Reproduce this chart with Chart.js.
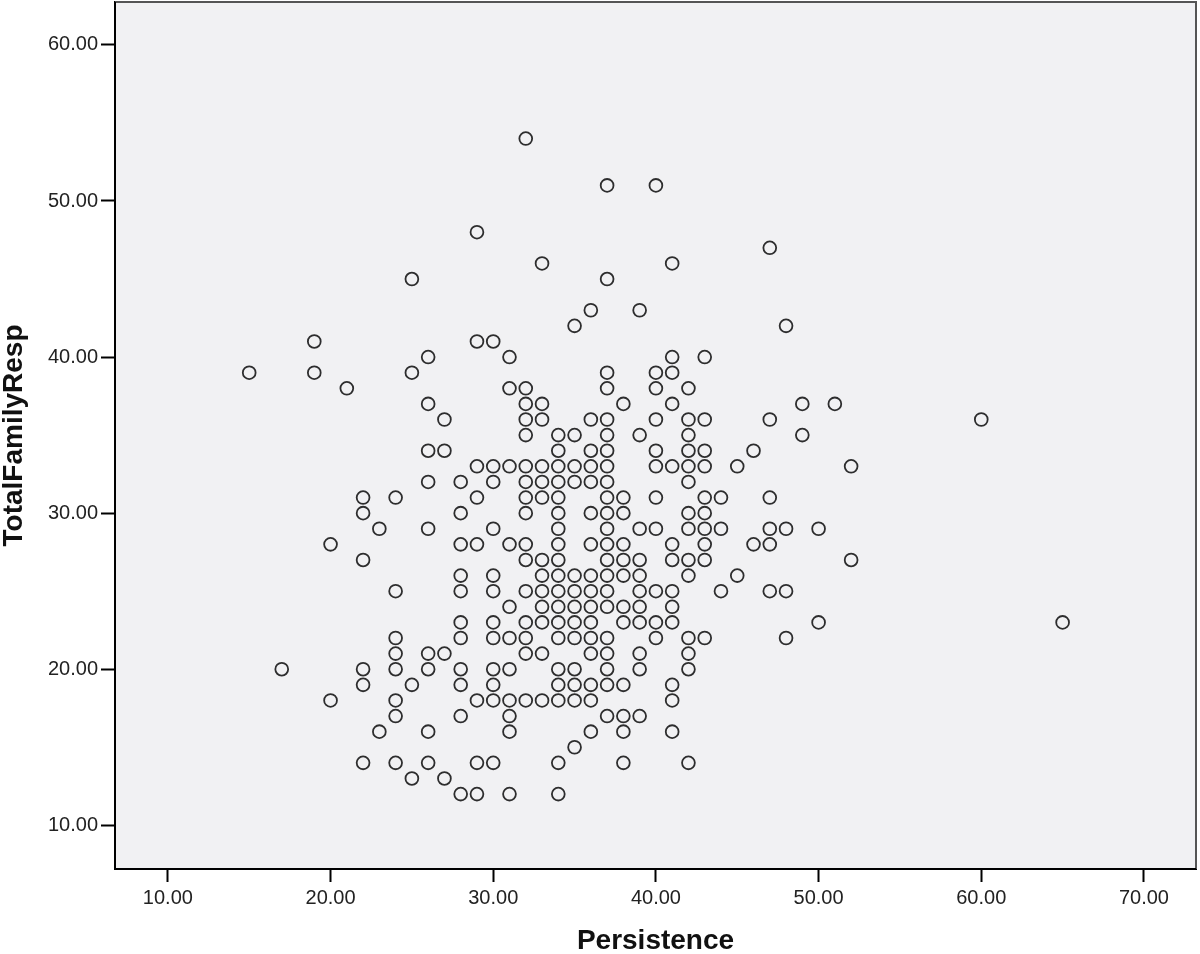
<!DOCTYPE html>
<html>
<head>
<meta charset="utf-8">
<script src="https://cdn.jsdelivr.net/npm/chart.js@4.4.1/dist/chart.umd.min.js"></script>
<style>
  html, body { margin: 0; padding: 0; background: #fff; }
  canvas { display: block; }
</style>
</head>
<body>
<canvas id="c" width="1200" height="954"></canvas>
<script>
// Persistence levels (x) and the TotalFamilyResp values seen at each level (y)
const persistenceLevels = [15, 17, 19, 20, 21, 22, 23, 24, 25, 26, 27, 28, 29, 30, 31, 32, 33, 34, 35, 36, 37, 38, 39, 40, 41, 42, 43, 44, 45, 46, 47, 48, 49, 50, 51, 52, 60, 65];
const familyRespByLevel = [
  [39],
  [20],
  [41, 39],
  [28, 18],
  [38],
  [31, 30, 27, 20, 19, 14],
  [29, 16],
  [31, 25, 22, 21, 20, 18, 17, 14],
  [45, 39, 19, 13],
  [40, 37, 34, 32, 29, 21, 20, 16, 14],
  [36, 34, 21, 13],
  [32, 30, 28, 26, 25, 23, 22, 20, 19, 17, 12],
  [48, 41, 33, 31, 28, 18, 14, 12],
  [41, 33, 32, 29, 26, 25, 23, 22, 20, 19, 18, 14],
  [40, 38, 33, 28, 24, 22, 20, 18, 17, 16, 12],
  [54, 38, 37, 36, 35, 33, 32, 31, 30, 28, 27, 25, 23, 22, 21, 18],
  [46, 37, 36, 33, 32, 31, 27, 26, 25, 24, 23, 21, 18],
  [35, 34, 33, 32, 31, 30, 29, 28, 27, 26, 25, 24, 23, 22, 20, 19, 18, 14, 12],
  [42, 35, 33, 32, 26, 25, 24, 23, 22, 20, 19, 18, 15],
  [43, 36, 34, 33, 32, 30, 28, 26, 25, 24, 23, 22, 21, 19, 18, 16],
  [51, 45, 39, 38, 36, 35, 34, 33, 32, 31, 30, 29, 28, 27, 26, 25, 24, 22, 21, 20, 19, 17],
  [37, 31, 30, 28, 27, 26, 24, 23, 19, 17, 16, 14],
  [43, 35, 29, 27, 26, 25, 24, 23, 21, 20, 17],
  [51, 39, 38, 36, 34, 33, 31, 29, 25, 23, 22],
  [46, 40, 39, 37, 33, 28, 27, 25, 24, 23, 19, 18, 16],
  [38, 36, 35, 34, 33, 32, 30, 29, 27, 26, 22, 21, 20, 14],
  [40, 36, 34, 33, 31, 30, 29, 28, 27, 22],
  [31, 29, 25],
  [33, 26],
  [34, 28],
  [47, 36, 31, 29, 28, 25],
  [42, 29, 25, 22],
  [37, 35],
  [29, 23],
  [37],
  [33, 27],
  [36],
  [23]
];
const xTicks = [10, 20, 30, 40, 50, 60, 70];
const yTicks = [10, 20, 30, 40, 50, 60];

const pts = [];
persistenceLevels.forEach((x, i) => {
  familyRespByLevel[i].forEach(y => pts.push({ x, y }));
});

const FONT = "'Liberation Sans', Arial, sans-serif";

// plot panel: grey fill behind, frame on top
const panel = {
  id: 'panel',
  beforeDraw(chart) {
    const { ctx, chartArea: a } = chart;
    ctx.save();
    ctx.fillStyle = '#F1F1F3';
    ctx.fillRect(a.left, a.top, a.right - a.left, a.bottom - a.top);
    ctx.restore();
  },
  afterDraw(chart) {
    const { ctx, chartArea: a } = chart;
    ctx.save();
    ctx.strokeStyle = '#555';
    ctx.lineWidth = 2;
    ctx.beginPath();
    ctx.moveTo(a.left, a.top);
    ctx.lineTo(a.right, a.top);
    ctx.lineTo(a.right, a.bottom);
    ctx.stroke();
    ctx.strokeStyle = '#000';
    ctx.beginPath();
    ctx.moveTo(a.left, a.top);
    ctx.lineTo(a.left, a.bottom);
    ctx.lineTo(a.right, a.bottom);
    ctx.stroke();
    ctx.restore();
  }
};

new Chart(document.getElementById('c'), {
  type: 'scatter',
  data: {
    datasets: [{
      data: pts,
      pointStyle: 'circle',
      pointRadius: 6.4,
      pointHoverRadius: 6.4,
      borderWidth: 1.8,
      borderColor: 'rgba(10,10,10,0.85)',
      backgroundColor: 'rgba(0,0,0,0)'
    }]
  },
  plugins: [panel],
  options: {
    responsive: false,
    animation: false,
    devicePixelRatio: 1,
    layout: { autoPadding: false, padding: { top: 2, right: 4, left: 0, bottom: 0 } },
    plugins: { legend: { display: false }, tooltip: { enabled: false } },
    scales: {
      x: {
        type: 'linear',
        min: 6.75,
        max: 73.2,
        afterFit(s) { s.height = 85; s.paddingLeft = 0; s.paddingRight = 0; },
        afterBuildTicks(s) { s.ticks = xTicks.map(v => ({ value: v })); },
        grid: { drawOnChartArea: false, drawTicks: true, tickLength: 13, tickWidth: 2, tickColor: '#000' },
        border: { display: true, color: '#000', width: 2 },
        ticks: {
          padding: 4,
          color: '#222',
          font: { family: FONT, size: 20 },
          callback: v => Number(v).toFixed(2)
        },
        title: {
          display: true,
          text: 'Persistence',
          color: '#111',
          padding: { top: 0, bottom: 0 },
          font: { family: FONT, size: 28, weight: 'bold', lineHeight: 0.9 }
        }
      },
      y: {
        type: 'linear',
        min: 7.2,
        max: 62.75,
        afterFit(s) { s.width = 115; s.paddingTop = 0; s.paddingBottom = 0; },
        afterBuildTicks(s) { s.ticks = yTicks.map(v => ({ value: v })); },
        grid: { drawOnChartArea: false, drawTicks: true, tickLength: 14, tickWidth: 2, tickColor: '#000' },
        border: { display: true, color: '#000', width: 2 },
        ticks: {
          padding: 3,
          color: '#222',
          font: { family: FONT, size: 20 },
          callback: v => Number(v).toFixed(2)
        },
        title: {
          display: true,
          text: 'TotalFamilyResp',
          color: '#111',
          padding: { top: 2, bottom: 0 },
          font: { family: FONT, size: 28, weight: 'bold', lineHeight: 0.9 }
        }
      }
    }
  }
});
</script>
</body>
</html>
